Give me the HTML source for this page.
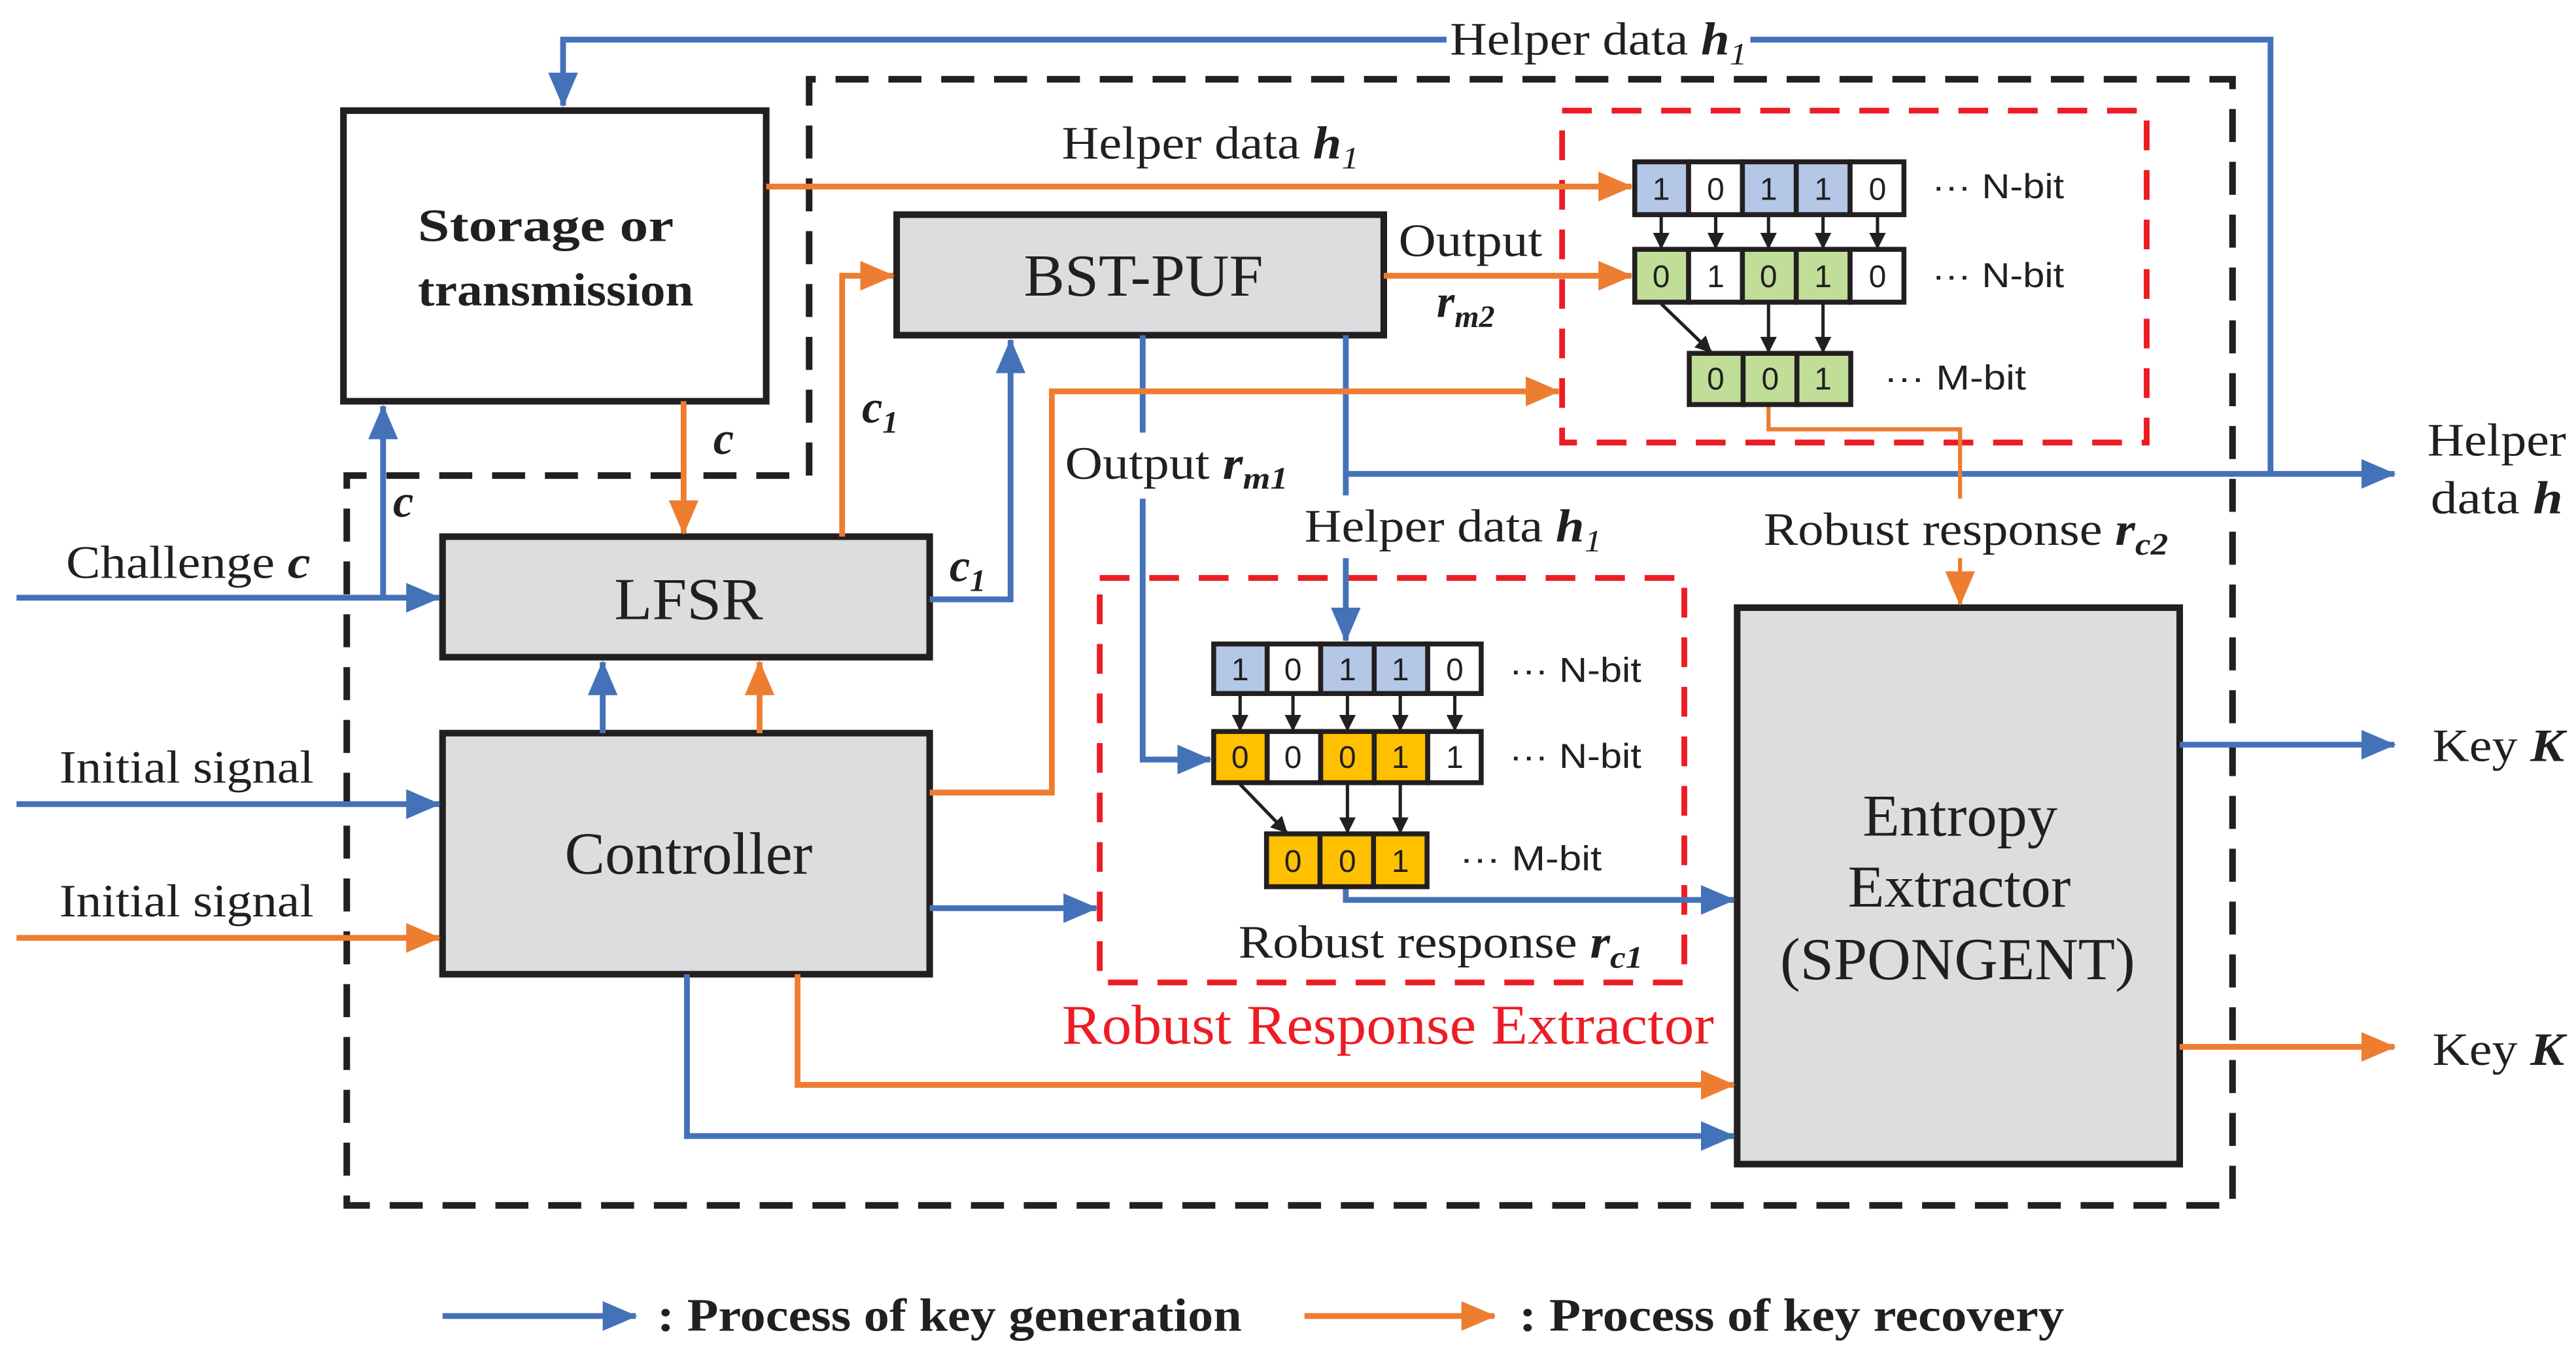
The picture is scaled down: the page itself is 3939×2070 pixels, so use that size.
<!DOCTYPE html>
<html><head><meta charset="utf-8"><style>
html,body{margin:0;padding:0;background:#fff}
svg{display:block}
text{font-family:"Liberation Serif",serif;fill:#231f20}
.s{font-family:"Liberation Sans",sans-serif}
</style></head><body>
<svg width="3939" height="2070" viewBox="0 0 1560 820" preserveAspectRatio="none" xmlns="http://www.w3.org/2000/svg">
<defs>
<marker id="ab" markerUnits="userSpaceOnUse" markerWidth="22" markerHeight="18" refX="20" refY="9" orient="auto"><path d="M0,0 L21,9 L0,18 Z" fill="#4472b9"/></marker>
<marker id="ao" markerUnits="userSpaceOnUse" markerWidth="22" markerHeight="18" refX="20" refY="9" orient="auto"><path d="M0,0 L21,9 L0,18 Z" fill="#ed7d31"/></marker>
<marker id="ak" markerUnits="userSpaceOnUse" markerWidth="10" markerHeight="10" refX="9" refY="5" orient="auto"><path d="M0,0 L10,5 L0,10 Z" fill="#231f20"/></marker>
</defs>
<g fill="none" stroke-linejoin="miter">
<path d="M490,288 L490,48 L1352,48 L1352,730 L210,730 L210,288 Z" stroke="#231f20" stroke-width="4" stroke-dasharray="20,12"/>
<rect x="946" y="67" width="354" height="201" stroke="#ed1c24" stroke-width="3.5" stroke-dasharray="18,12"/>
<rect x="666" y="350" width="354" height="245" stroke="#ed1c24" stroke-width="3.5" stroke-dasharray="18,12"/>
<rect x="208" y="67" width="256" height="176" fill="#fff" stroke="#231f20" stroke-width="4"/>
<rect x="543" y="130" width="295" height="73" fill="#dcdddf" stroke="#231f20" stroke-width="4"/>
<rect x="268" y="325" width="295" height="73" fill="#dcdddf" stroke="#231f20" stroke-width="4"/>
<rect x="268" y="444" width="295" height="146" fill="#dcdddf" stroke="#231f20" stroke-width="4"/>
<rect x="1052" y="368" width="268" height="337" fill="#dcdddf" stroke="#231f20" stroke-width="4"/>
</g>
<g fill="none" stroke="#4472b9" stroke-width="3.5">
<path d="M876,24 L341,24 L341,64" marker-end="url(#ab)"/>
<path d="M1060,24 L1375,24 L1375,287"/>
<path d="M10,362 L266,362" marker-end="url(#ab)"/>
<path d="M232,362 L232,246" marker-end="url(#ab)"/>
<path d="M563,363 L612,363 L612,206" marker-end="url(#ab)"/>
<path d="M10,487 L266,487" marker-end="url(#ab)"/>
<path d="M365,444 L365,401" marker-end="url(#ab)"/>
<path d="M563,550 L664,550" marker-end="url(#ab)"/>
<path d="M416,590 L416,688 L1050,688" marker-end="url(#ab)"/>
<path d="M692,203 L692,262"/>
<path d="M692,302 L692,460 L733,460" marker-end="url(#ab)"/>
<path d="M815,203 L815,287 L1450,287" marker-end="url(#ab)"/>
<path d="M815,287 L815,300"/>
<path d="M815,338 L815,388" marker-end="url(#ab)"/>
<path d="M815,537 L815,545 L1050,545" marker-end="url(#ab)"/>
<path d="M1320,451 L1450,451" marker-end="url(#ab)"/>
<path d="M268,797 L385,797" marker-end="url(#ab)"/>
</g>
<g fill="none" stroke="#ed7d31" stroke-width="3.5">
<path d="M464,113 L988,113" marker-end="url(#ao)"/>
<path d="M838,167 L988,167" marker-end="url(#ao)"/>
<path d="M414,243 L414,323" marker-end="url(#ao)"/>
<path d="M510,325 L510,167 L541,167" marker-end="url(#ao)"/>
<path d="M563,480 L637,480 L637,237 L944,237" marker-end="url(#ao)"/>
<path d="M10,568 L266,568" marker-end="url(#ao)"/>
<path d="M460,444 L460,401" marker-end="url(#ao)"/>
<path d="M483,590 L483,657 L1050,657" marker-end="url(#ao)"/>
<path d="M1071,245 L1071,260 L1187,260 L1187,302" stroke-width="2.5"/>
<path d="M1187,338 L1187,366" stroke-width="2.5" marker-end="url(#ao)"/>
<path d="M1320,634 L1450,634" marker-end="url(#ao)"/>
<path d="M790,797 L905,797" marker-end="url(#ao)"/>
</g>
<g stroke="#231f20" stroke-width="3">
<rect x="990" y="98" width="32.6" height="32" fill="#b4c7e7"/><rect x="1022.6" y="98" width="32.6" height="32" fill="#fff"/><rect x="1055.2" y="98" width="32.6" height="32" fill="#b4c7e7"/><rect x="1087.8" y="98" width="32.6" height="32" fill="#b4c7e7"/><rect x="1120.4" y="98" width="32.6" height="32" fill="#fff"/>
<rect x="990" y="151" width="32.6" height="32" fill="#c0de98"/><rect x="1022.6" y="151" width="32.6" height="32" fill="#fff"/><rect x="1055.2" y="151" width="32.6" height="32" fill="#c0de98"/><rect x="1087.8" y="151" width="32.6" height="32" fill="#c0de98"/><rect x="1120.4" y="151" width="32.6" height="32" fill="#fff"/>
<rect x="1023" y="214" width="32.6" height="31" fill="#c0de98"/><rect x="1055.6" y="214" width="32.6" height="31" fill="#c0de98"/><rect x="1088.2" y="214" width="32.6" height="31" fill="#c0de98"/>
<rect x="735" y="390" width="32.4" height="30" fill="#b4c7e7"/><rect x="767.4" y="390" width="32.4" height="30" fill="#fff"/><rect x="799.8" y="390" width="32.4" height="30" fill="#b4c7e7"/><rect x="832.2" y="390" width="32.4" height="30" fill="#b4c7e7"/><rect x="864.6" y="390" width="32.4" height="30" fill="#fff"/>
<rect x="735" y="443" width="32.4" height="31" fill="#ffc000"/><rect x="767.4" y="443" width="32.4" height="31" fill="#fff"/><rect x="799.8" y="443" width="32.4" height="31" fill="#ffc000"/><rect x="832.2" y="443" width="32.4" height="31" fill="#ffc000"/><rect x="864.6" y="443" width="32.4" height="31" fill="#fff"/>
<rect x="767" y="505" width="32.4" height="32" fill="#ffc000"/><rect x="799.4" y="505" width="32.4" height="32" fill="#ffc000"/><rect x="831.8" y="505" width="32.4" height="32" fill="#ffc000"/>
</g>
<g stroke="#231f20" stroke-width="2" fill="none" marker-end="url(#ak)">
<path d="M1006,131 L1006,150"/><path d="M1039,131 L1039,150"/><path d="M1071,131 L1071,150"/><path d="M1104,131 L1104,150"/><path d="M1137,131 L1137,150"/>
<path d="M1006,184 L1036,213"/><path d="M1071,184 L1071,213"/><path d="M1104,184 L1104,213"/>
<path d="M751,421 L751,442"/><path d="M783,421 L783,442"/><path d="M816,421 L816,442"/><path d="M848,421 L848,442"/><path d="M881,421 L881,442"/>
<path d="M751,475 L779,504"/><path d="M816,475 L816,504"/><path d="M848,475 L848,504"/>
</g>
<g font-size="19" text-anchor="middle">
<text class="s" x="1006" y="121">1</text><text class="s" x="1039" y="121">0</text><text class="s" x="1071" y="121">1</text><text class="s" x="1104" y="121">1</text><text class="s" x="1137" y="121">0</text>
<text class="s" x="1006" y="174">0</text><text class="s" x="1039" y="174">1</text><text class="s" x="1071" y="174">0</text><text class="s" x="1104" y="174">1</text><text class="s" x="1137" y="174">0</text>
<text class="s" x="1039" y="236">0</text><text class="s" x="1072" y="236">0</text><text class="s" x="1104" y="236">1</text>
<text class="s" x="751" y="412">1</text><text class="s" x="783" y="412">0</text><text class="s" x="816" y="412">1</text><text class="s" x="848" y="412">1</text><text class="s" x="881" y="412">0</text>
<text class="s" x="751" y="465">0</text><text class="s" x="783" y="465">0</text><text class="s" x="816" y="465">0</text><text class="s" x="848" y="465">1</text><text class="s" x="881" y="465">1</text>
<text class="s" x="783" y="528">0</text><text class="s" x="816" y="528">0</text><text class="s" x="848" y="528">1</text>
</g>
<g font-size="21">
<text class="s" x="1170" y="120" textLength="80" lengthAdjust="spacingAndGlyphs">··· N-bit</text>
<text class="s" x="1170" y="174" textLength="80" lengthAdjust="spacingAndGlyphs">··· N-bit</text>
<text class="s" x="1141" y="236" textLength="86" lengthAdjust="spacingAndGlyphs">··· M-bit</text>
<text class="s" x="914" y="413" textLength="80" lengthAdjust="spacingAndGlyphs">··· N-bit</text>
<text class="s" x="914" y="465" textLength="80" lengthAdjust="spacingAndGlyphs">··· N-bit</text>
<text class="s" x="884" y="527" textLength="86" lengthAdjust="spacingAndGlyphs">··· M-bit</text>
</g>
<g font-size="28">
<text x="878" y="33" textLength="180" lengthAdjust="spacingAndGlyphs">Helper data <tspan font-weight="bold" font-style="italic">h</tspan><tspan font-style="italic" font-size="19" dy="6">1</tspan></text>
<text x="643" y="96" textLength="180" lengthAdjust="spacingAndGlyphs">Helper data <tspan font-weight="bold" font-style="italic">h</tspan><tspan font-style="italic" font-size="19" dy="6">1</tspan></text>
<text x="253" y="146" textLength="155" lengthAdjust="spacingAndGlyphs" font-weight="bold">Storage or</text>
<text x="253" y="185" textLength="167" lengthAdjust="spacingAndGlyphs" font-weight="bold">transmission</text>
<text x="620" y="179" font-size="36" textLength="145" lengthAdjust="spacingAndGlyphs">BST-PUF</text>
<text x="847" y="155" textLength="87" lengthAdjust="spacingAndGlyphs">Output</text>
<text x="870" y="192" font-style="italic" font-weight="bold">r<tspan font-size="19" dy="6">m2</tspan></text>
<text x="432" y="275" font-style="italic" font-weight="bold">c</text>
<text x="238" y="313" font-style="italic" font-weight="bold">c</text>
<text x="522" y="256" font-style="italic" font-weight="bold">c<tspan font-size="19" dy="6">1</tspan></text>
<text x="575" y="352" font-style="italic" font-weight="bold">c<tspan font-size="19" dy="6">1</tspan></text>
<text x="40" y="350" textLength="148" lengthAdjust="spacingAndGlyphs">Challenge <tspan font-style="italic" font-weight="bold">c</tspan></text>
<text x="372" y="375" font-size="36" textLength="90" lengthAdjust="spacingAndGlyphs">LFSR</text>
<text x="645" y="290" textLength="135" lengthAdjust="spacingAndGlyphs">Output <tspan font-style="italic" font-weight="bold">r</tspan><tspan font-style="italic" font-weight="bold" font-size="19" dy="6">m1</tspan></text>
<text x="790" y="328" textLength="180" lengthAdjust="spacingAndGlyphs">Helper data <tspan font-weight="bold" font-style="italic">h</tspan><tspan font-style="italic" font-size="19" dy="6">1</tspan></text>
<text x="1068" y="330" textLength="245" lengthAdjust="spacingAndGlyphs">Robust response <tspan font-style="italic" font-weight="bold">r</tspan><tspan font-style="italic" font-weight="bold" font-size="19" dy="6">c2</tspan></text>
<text x="1470" y="276" textLength="84" lengthAdjust="spacingAndGlyphs">Helper</text>
<text x="1472" y="311" textLength="80" lengthAdjust="spacingAndGlyphs">data  <tspan font-style="italic" font-weight="bold">h</tspan></text>
<text x="36" y="474" textLength="154" lengthAdjust="spacingAndGlyphs">Initial signal</text>
<text x="36" y="555" textLength="154" lengthAdjust="spacingAndGlyphs">Initial signal</text>
<text x="342" y="529" font-size="36" textLength="150" lengthAdjust="spacingAndGlyphs">Controller</text>
<text x="750" y="580" textLength="245" lengthAdjust="spacingAndGlyphs">Robust response <tspan font-style="italic" font-weight="bold">r</tspan><tspan font-style="italic" font-weight="bold" font-size="19" dy="6">c1</tspan></text>
<text x="643" y="632" font-size="34" textLength="395" lengthAdjust="spacingAndGlyphs" style="fill:#ed1c24">Robust Response Extractor</text>
<text x="1128" y="506" font-size="36" textLength="118" lengthAdjust="spacingAndGlyphs">Entropy</text>
<text x="1119" y="549" font-size="36" textLength="135" lengthAdjust="spacingAndGlyphs">Extractor</text>
<text x="1078" y="593" font-size="36" textLength="215" lengthAdjust="spacingAndGlyphs">(SPONGENT)</text>
<text x="1473" y="461" textLength="80" lengthAdjust="spacingAndGlyphs">Key <tspan font-style="italic" font-weight="bold">K</tspan></text>
<text x="1473" y="645" textLength="80" lengthAdjust="spacingAndGlyphs">Key <tspan font-style="italic" font-weight="bold">K</tspan></text>
<text x="398" y="806" font-weight="bold" textLength="354" lengthAdjust="spacingAndGlyphs">: Process of key generation</text>
<text x="920" y="806" font-weight="bold" textLength="330" lengthAdjust="spacingAndGlyphs">: Process of key recovery</text>
</g>
</svg>
</body></html>
